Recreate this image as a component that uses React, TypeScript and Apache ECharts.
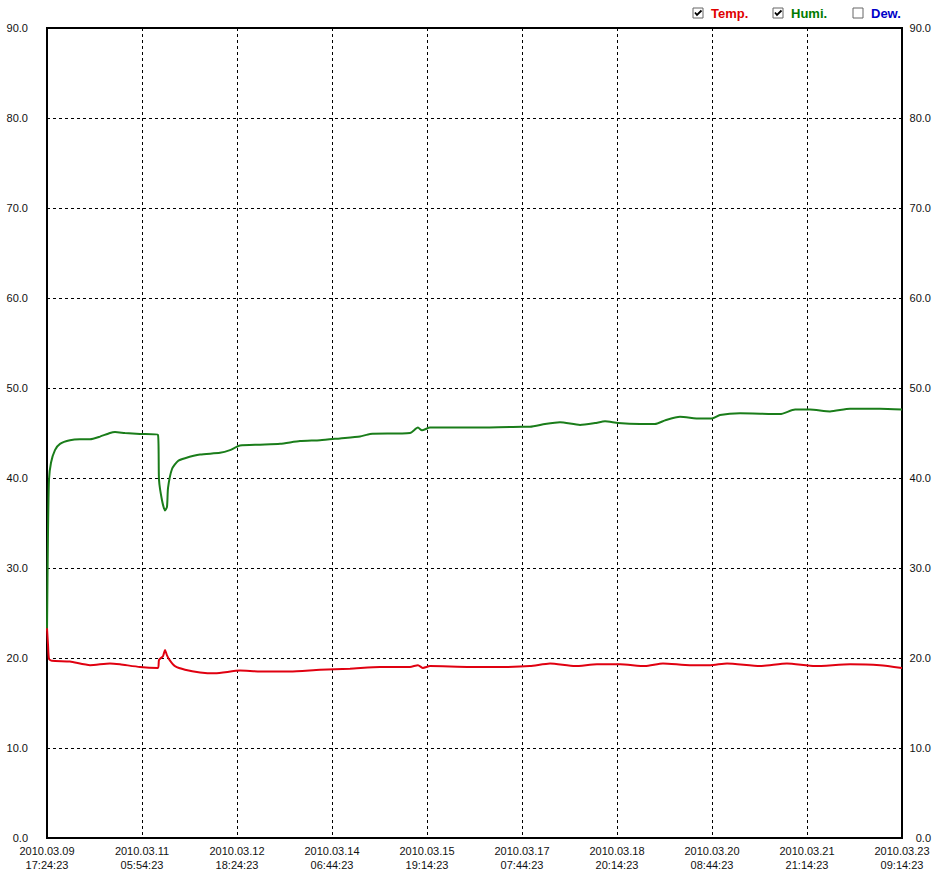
import React, { useEffect, useRef } from "react";
import * as echarts from "echarts";

// Tick labels (x axis, 9 equal intervals)
const tickDates = [
  "2010.03.09", "2010.03.11", "2010.03.12", "2010.03.14", "2010.03.15",
  "2010.03.17", "2010.03.18", "2010.03.20", "2010.03.21", "2010.03.23",
];
const tickTimes = [
  "17:24:23", "05:54:23", "18:24:23", "06:44:23", "19:14:23",
  "07:44:23", "20:14:23", "08:44:23", "21:14:23", "09:14:23",
];

// Positions in units of tick intervals (0..9)
const humiX = [
  0, 0.0105, 0.021, 0.042, 0.084, 0.137, 0.242, 0.347, 0.453, 0.558, 0.663, 0.716,
  0.821, 0.979, 1.168, 1.179, 1.211, 1.242, 1.263, 1.274, 1.316, 1.379, 1.453, 1.611,
  1.821, 1.926, 2.032, 2.242, 2.453, 2.663, 2.874, 3.084, 3.295, 3.4, 3.821, 3.905,
  3.947, 4.032, 4.5, 5.0, 5.084, 5.242, 5.4, 5.611, 5.768, 5.874, 6.011, 6.242, 6.4,
  6.505, 6.663, 6.874, 7.0, 7.084, 7.295, 7.716, 7.874, 8.032, 8.242, 8.453, 8.768, 9,
];
const humiY = [
  23, 34, 39.8, 41.7, 43.1, 43.8, 44.2, 44.3, 44.3, 44.6, 45.0, 45.1,
  45.0, 44.9, 44.8, 39.8, 37.5, 36.4, 36.8, 38.9, 41.0, 41.9, 42.2, 42.6,
  42.8, 43.1, 43.6, 43.7, 43.8, 44.1, 44.2, 44.4, 44.6, 44.9, 45.0, 45.6,
  45.3, 45.6, 45.6, 45.7, 45.7, 46.0, 46.2, 45.9, 46.1, 46.3, 46.1, 46.0, 46.0,
  46.4, 46.8, 46.6, 46.6, 47.0, 47.2, 47.1, 47.6, 47.6, 47.4, 47.7, 47.7, 47.6,
];

const tempX = [
  0, 0.0105, 0.021, 0.053, 0.242, 0.453, 0.663, 0.768, 0.979, 1.168, 1.179, 1.221,
  1.242, 1.263, 1.295, 1.347, 1.453, 1.611, 1.768, 2.032, 2.242, 2.558, 2.874, 3.189,
  3.505, 3.821, 3.905, 3.958, 4.032, 4.453, 4.768, 5.084, 5.295, 5.558, 5.789, 6.032,
  6.295, 6.484, 6.768, 6.979, 7.158, 7.505, 7.789, 8.084, 8.453, 8.768, 9,
];
const tempY = [
  23.3, 21.5, 19.9, 19.7, 19.6, 19.2, 19.4, 19.3, 19.0, 18.9, 19.8, 20.2,
  20.9, 20.3, 19.7, 19.1, 18.7, 18.4, 18.3, 18.6, 18.5, 18.5, 18.7, 18.8,
  19.0, 19.0, 19.2, 18.9, 19.1, 19.0, 19.0, 19.1, 19.4, 19.1, 19.3, 19.3,
  19.1, 19.4, 19.2, 19.2, 19.4, 19.1, 19.4, 19.1, 19.3, 19.2, 18.9,
];

const legendItems = [
  { name: "Temp.", color: "#e00000", checked: true },
  { name: "Humi.", color: "#007a00", checked: true },
  { name: "Dew.", color: "#0000c8", checked: false },
];

const FONT = "'Liberation Sans', Arial, sans-serif";

export default function App() {
  const ref = useRef<HTMLDivElement>(null);
  useEffect(() => {
    if (!ref.current) return;
    const chart = echarts.init(ref.current, undefined, { renderer: "svg" });

    const legendX = [693, 773, 853];
    const graphics: any[] = [];
    legendItems.forEach((it, i) => {
      const x = legendX[i];
      const y = 8;
      graphics.push({
        type: "rect",
        shape: { x, y, width: 10, height: 10 },
        style: { fill: "#fff", stroke: "#666", lineWidth: 1 },
      });
      if (it.checked) {
        graphics.push({
          type: "polyline",
          shape: { points: [[x + 2, y + 4.5], [x + 4, y + 7], [x + 8.5, y + 2.5]] },
          style: { stroke: "#000", lineWidth: 1.8, fill: "none" },
        });
      }
      graphics.push({
        type: "text",
        x: x + 18,
        y: y + 5,
        style: {
          text: it.name,
          fill: it.color,
          font: `bold 13px ${FONT}`,
          verticalAlign: "middle",
        },
      });
    });

    const yLabel = { fontSize: 11, fontFamily: FONT, color: "#111", formatter: (v: number) => v.toFixed(1) };

    chart.setOption({
      animation: false,
      backgroundColor: "#fff",
      grid: {
        left: 47, right: 41, top: 28, bottom: 38,
        show: true, borderColor: "#000", borderWidth: 2, backgroundColor: "transparent",
      },
      xAxis: {
        type: "value", min: 0, max: 9, interval: 1,
        axisLine: { show: false }, axisTick: { show: false },
        splitLine: { show: true, lineStyle: { color: "#000", type: [3, 3], width: 1 } },
        axisLabel: {
          fontSize: 11, fontFamily: FONT, color: "#111", lineHeight: 14, margin: 6,
          showMinLabel: true, showMaxLabel: true,
          formatter: (v: number) => `${tickDates[Math.round(v)]}\n${tickTimes[Math.round(v)]}`,
        },
      },
      yAxis: [
        {
          type: "value", min: 0, max: 90, interval: 10, position: "left",
          axisLine: { show: false }, axisTick: { show: false },
          splitLine: { show: true, lineStyle: { color: "#000", type: [3, 3], width: 1 } },
          axisLabel: { ...yLabel, margin: 19 },
        },
        {
          type: "value", min: 0, max: 90, interval: 10, position: "right",
          axisLine: { show: false }, axisTick: { show: false },
          splitLine: { show: false },
          axisLabel: { ...yLabel, margin: 29, align: "right" },
        },
      ],
      series: [
        {
          name: "Humi.", type: "line", showSymbol: false, symbol: "none",
          data: humiX.map((x, i) => [x, humiY[i]]),
          lineStyle: { color: "#1a7d1a", width: 2 }, smooth: 0.2,
        },
        {
          name: "Temp.", type: "line", showSymbol: false, symbol: "none",
          data: tempX.map((x, i) => [x, tempY[i]]),
          lineStyle: { color: "#e00010", width: 2 }, smooth: 0.2,
        },
      ],
      graphic: graphics,
    });
    return () => chart.dispose();
  }, []);
  return (
    <div
      ref={ref}
      style={{ position: "absolute", left: 0, top: 0, width: 943, height: 876, background: "#fff" }}
    />
  );
}
